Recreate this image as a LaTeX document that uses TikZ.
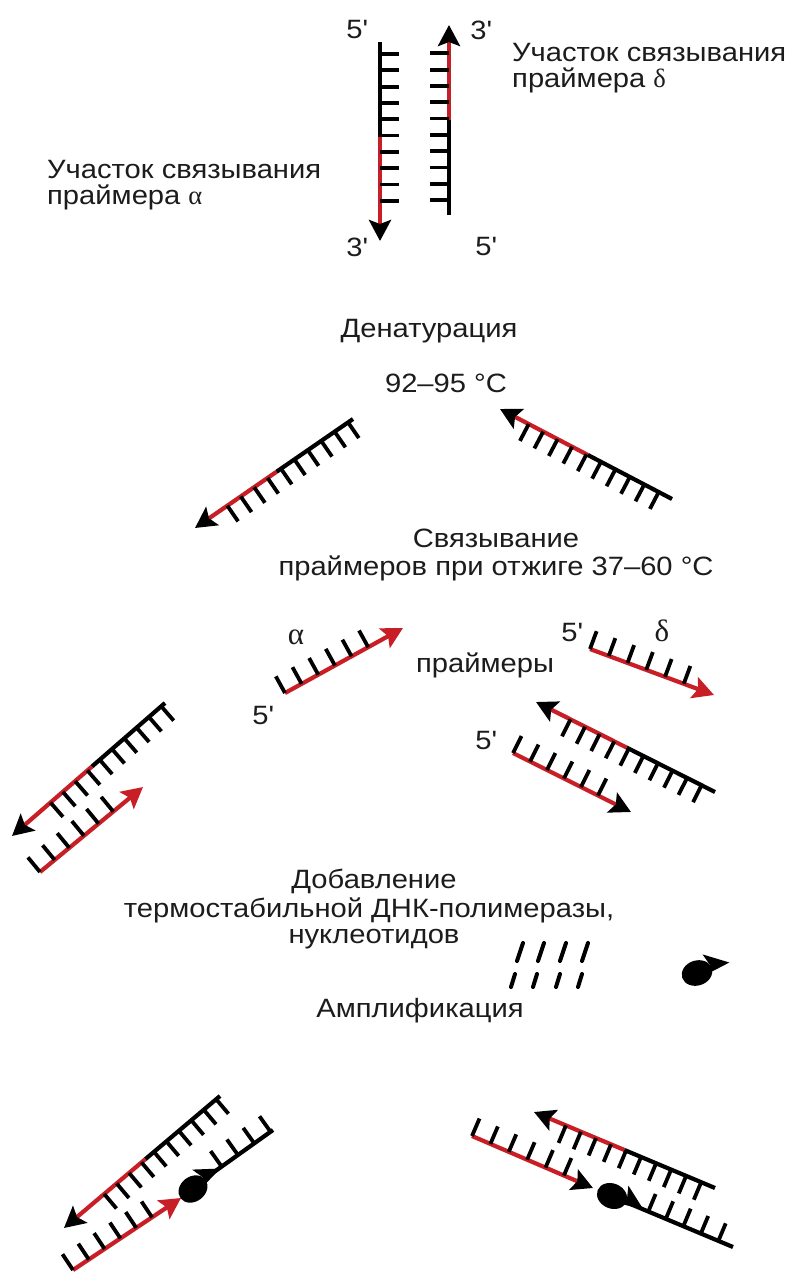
\documentclass[tikz,border=0pt]{standalone}
\usepackage{fontspec}
\setmainfont{Liberation Sans}[FakeStretch=1.1]
\newfontfamily\grk{Liberation Serif}
\usetikzlibrary{arrows.meta,decorations.markings,calc}
\definecolor{strandred}{RGB}{200,30,38}
\definecolor{ink}{RGB}{28,28,28}

\tikzset{
  strand/.style={line width=4.2pt, line cap=butt},
  tip/.style={-{Stealth[length=21pt,width=22pt,inset=4pt,color=#1]}},
  bases/.style n args={3}{postaction={decorate, decoration={markings,
      mark=between positions #1 and #2 step #3 with {\draw[line width=3.8pt, black] (0,0) -- (0,19pt);}}}},
  lbl/.style={font=\fontsize{26.5}{28}\selectfont, text=ink, inner sep=0pt},
  site/.style={font=\fontsize{26.5}{26}\selectfont, text=ink, inner sep=0pt, align=left},
  greek/.style={font=\grk\fontsize{31}{31}\selectfont, text=ink, inner sep=0pt},
  nt/.style={line width=4pt, line cap=round},
  polymerase/.pic={
    \fill (0,0) ellipse [x radius=15.5pt, y radius=12.5pt];
    \fill (4pt,-5pt) -- (34pt,0pt) -- (11pt,16pt) -- (15pt,3pt) -- cycle;
  },
}

% two-coloured strand: start, tip, red from (distance), first base, last base, head colour
\newcommand\dnastrand[6]{%
  \draw[strand] (#1) -- ($(#1)!#3!(#2)$);
  \draw[strand, strandred, tip=#6] ($(#1)!#3!(#2)$) -- (#2);
  \path[bases={#4}{#5}{16.3pt}] (#1) -- (#2);
}
% primer: start, tip, head colour, last base, step
\newcommand\primer[5]{%
  \draw[strand, strandred, tip=#3] (#1) -- (#2);
  \path[bases={0pt}{#4}{#5}] (#1) -- (#2);
}

\begin{document}
\begin{tikzpicture}[x=1pt, y=-1pt]
\fill[white] (0,0) rectangle (796,1277);
\useasboundingbox (0,0) rectangle (796,1277);

% ---- double strand ----
\coordinate (a5) at (380,42);  \coordinate (a3) at (380,241);
\coordinate (b5) at (449,215); \coordinate (b3) at (449,25);
\dnastrand{a5}{a3}{95pt}{12pt}{160pt}{black}
\dnastrand{b5}{b3}{95pt}{15pt}{162.5pt}{black}

\node[lbl] (t5a) at (357,30) {5\textquotesingle};
\node[lbl] (t3b) at (481,30) {3\textquotesingle};
\node[lbl] (t3a) at (357,247) {3\textquotesingle};
\node[lbl] (t5b) at (486,247) {5\textquotesingle};

\node[site, anchor=base west] (sitea) at (47,204)
  {Участок связывания\\праймера {\grk α}};
\node[site, anchor=base west] (sited) at (512,87)
  {Участок связывания\\праймера {\grk δ}};

% ---- denaturation ----
\node[lbl, anchor=base] (den) at (429,337) {Денатурация};
\node[lbl, anchor=base] (dent) at (446,392) {92–95 °C};

\coordinate (c5) at (353,419); \coordinate (c3) at (195,528);
\coordinate (d5) at (672,499); \coordinate (d3) at (500,409);
\dnastrand{c5}{c3}{93pt}{6pt}{153.5pt}{black}
\dnastrand{d5}{d3}{95pt}{15pt}{162.5pt}{black}

% ---- annealing ----
\node[lbl, anchor=base] (ann1) at (496,547) {Связывание};
\node[lbl, anchor=base] (ann2) at (496,575) {праймеров при отжиге 37–60 °C};
\node[lbl, anchor=base] (prm) at (485,672) {праймеры};

\coordinate (p1s) at (285,693); \coordinate (p1t) at (403,628);
\primer{p1s}{p1t}{strandred}{96pt}{19pt}
\node[greek] (alpha) at (296,637) {α};
\node[lbl] (p1lab) at (263,716) {5\textquotesingle};

\coordinate (p2s) at (590,649); \coordinate (p2t) at (714,695);
\primer{p2s}{p2t}{strandred}{101pt}{20pt}
\node[greek] (delta) at (662,631) {δ};
\node[lbl] (p2lab) at (572,633) {5\textquotesingle};

\coordinate (e5) at (715,792); \coordinate (e3) at (536,702);
\dnastrand{e5}{e3}{99pt}{15pt}{162.5pt}{black}
\coordinate (p3s) at (513,753); \coordinate (p3t) at (631,812);
\primer{p3s}{p3t}{black}{96pt}{19pt}
\node[lbl] (p3lab) at (486,741) {5\textquotesingle};

\coordinate (f5) at (165,703); \coordinate (f3) at (12,836);
\dnastrand{f5}{f3}{97pt}{5pt}{152pt}{black}
\coordinate (p4s) at (40,872); \coordinate (p4t) at (143,787);
\primer{p4s}{p4t}{strandred}{96pt}{19pt}

% ---- polymerase and nucleotides ----
\node[lbl, anchor=base] (add1) at (374,888) {Добавление};
\node[lbl, anchor=base] (add2) at (369,917) {термостабильной ДНК-полимеразы,};
\node[lbl, anchor=base] (add3) at (374,943) {нуклеотидов};

\foreach \x in {520,541,563,585} \draw[nt] (\x-3,961) -- (\x+3,943);
\foreach \x in {513,535,558,580} \draw[nt] (\x-2,987) -- (\x+2,974);
\pic (pol0) [rotate=18] at (697,973) {polymerase};

% ---- amplification ----
\node[lbl, anchor=base] (amp) at (420,1017) {Амплификация};

\coordinate (g5) at (220,1096); \coordinate (g3) at (64,1228);
\dnastrand{g5}{g3}{98pt}{5pt}{152pt}{black}
\coordinate (p5s) at (73,1270); \coordinate (p5t) at (181,1198);
\primer{p5s}{p5t}{strandred}{96pt}{19pt}
\pic (pol1) [rotate=37] at (193,1189) {polymerase};
\coordinate (h1) at (207,1177); \coordinate (h2) at (273,1130);
\draw[strand] (h1) -- (h2);
\path[bases={18pt}{78.5pt}{20pt}] (h1) -- (h2);

\coordinate (i5) at (715,1188); \coordinate (i3) at (534,1112);
\dnastrand{i5}{i3}{98pt}{15pt}{162.5pt}{black}
\coordinate (p6s) at (472,1136); \coordinate (p6t) at (593,1188);
\primer{p6s}{p6t}{black}{101pt}{20pt}
\pic (pol2) [rotate=-23] at (612,1196) {polymerase};
\coordinate (j1) at (628,1203); \coordinate (j2) at (733,1247);
\draw[strand] (j1) -- (j2);
\path[bases={22pt}{98.5pt}{19pt}] (j1) -- (j2);
\end{tikzpicture}
\end{document}
